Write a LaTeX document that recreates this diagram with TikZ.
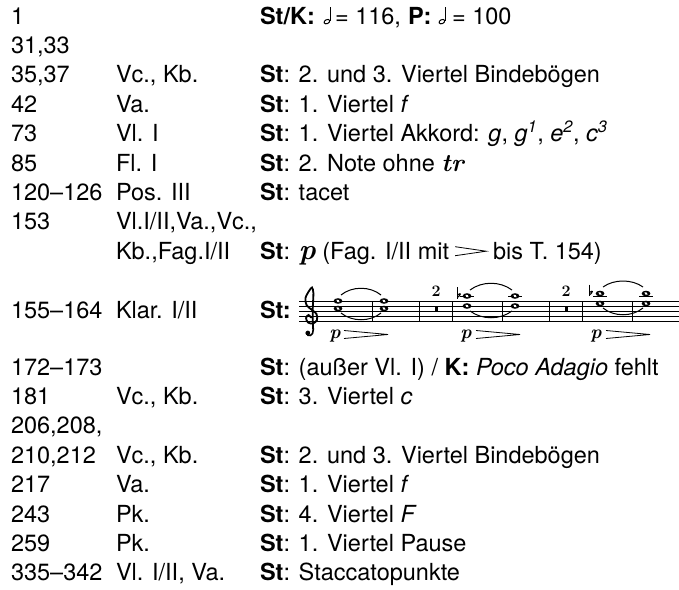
\documentclass[tikz,border=0pt]{standalone}
\usepackage{fontspec}
\newfontfamily\helv{TeX Gyre Heros}
\begin{document}
\begin{tikzpicture}[x=1pt,y=-1pt,
  txt/.style={anchor=base west, inner sep=0pt, outer sep=0pt, font=\helv\fontsize{23.5}{28}\selectfont},
  dyn/.style={anchor=base, inner sep=0pt, font=\rmfamily\bfseries\itshape\fontsize{19}{19}\selectfont},
  restnum/.style={inner sep=0pt, font=\rmfamily\bfseries\fontsize{16}{16}\selectfont},
  staffline/.style={line width=0.8pt},
  barline/.style={line width=1pt},
  tie/.style={line width=1pt},
  hairpin/.style={line width=0.8pt},
  wnote/.pic={\fill (0,0) ellipse (4.4 and 2.8); \fill[white,rotate=-35] (0,0) ellipse (1.9 and 1.2);},
  halfnote/.pic={\draw[line width=1pt,rotate=25] (0,-2.6) ellipse (3.0 and 2.0); \draw[line width=0.9pt] (2.8,-3.5) -- (2.8,-17);},
  ledger/.pic={\draw[line width=0.9pt] (-7,0) -- (7,0);},
  flat/.pic={\draw[line width=1pt] (0,-9) -- (0,2.5); \fill (0,2.5) .. controls (5.5,-1) and (5,-5) .. (0,-1.5) -- (0,0) .. controls (3,-2.5) and (3,-1) .. (0,1.2) -- cycle;}
]
\useasboundingbox (0,0) rectangle (679,589);
\def\ca{11}\def\cb{116}\def\cc{260}
% rows
\node[txt] (a1) at (\ca,24) {1};
\node[txt] (c1) at (\cc,24) {\bfseries St/K:};
\pic at (328,24) {halfnote};
\node[txt] (d1) at (335,24) {= 116,};
\node[txt] (p1t) at (408,24) {\bfseries P:};
\pic at (443,24) {halfnote};
\node[txt] (e1) at (452,24) {= 100};

\node[txt] (a2) at (\ca,53.4) {31,33};

\node[txt] (a3) at (\ca,82.8) {35,37};
\node[txt] (b3) at (\cb,82.8) {Vc., Kb.};
\node[txt] (c3) at (\cc,82.8) {\textbf{St}: 2. und 3. Viertel Bindebögen};

\node[txt] (a4) at (\ca,112.2) {42};
\node[txt] (b4) at (\cb,112.2) {Va.};
\node[txt] (c4) at (\cc,112.2) {\textbf{St}: 1. Viertel \textit{f}};

\node[txt] (a5) at (\ca,141.6) {73};
\node[txt] (b5) at (\cb,141.6) {Vl. I};
\node[txt] (c5) at (\cc,141.6) {\textbf{St}: 1. Viertel Akkord: \textit{g}, \textit{g}\textsuperscript{\itshape 1}, \textit{e}\textsuperscript{\itshape 2}, \textit{c}\textsuperscript{\itshape 3}};

\node[txt] (a6) at (\ca,171) {85};
\node[txt] (b6) at (\cb,171) {Fl. I};
\node[txt] (c6) at (\cc,171) {\textbf{St}: 2. Note ohne {\rmfamily\bfseries\itshape\fontsize{25}{25}\selectfont tr}};

\node[txt] (a7) at (\ca,200.4) {120–126};
\node[txt] (b7) at (\cb,200.4) {Pos. III};
\node[txt] (c7) at (\cc,200.4) {\textbf{St}: tacet};

\node[txt] (a8) at (\ca,229.8) {153};
\node[txt] (b8) at (\cb,229.8) {Vl.I/II,Va.,Vc.,};

\node[txt] (b9) at (\cb,259.2) {Kb.,Fag.I/II};
\node[txt] (c9) at (\cc,259.2) {\textbf{St}: {\rmfamily\bfseries\itshape\fontsize{29}{29}\selectfont p} (Fag. I/II mit};
\coordinate (h9) at ([xshift=6pt,yshift=8pt]c9.base east);
\draw[hairpin] ([yshift=4.5pt]h9) -- ([xshift=31pt]h9) -- ([yshift=-4.5pt]h9);
\node[txt] (d9) at ([xshift=44pt]c9.base east) {bis T. 154)};

% staff row
\node[txt] (a10) at (\ca,318) {155–164};
\node[txt] (b10) at (\cb,318) {Klar. I/II};
\node[txt] (c10) at (\cc,318) {\bfseries St:};
\foreach \yy in {301,306,311,316,321} \draw[staffline] (299,\yy) -- (679,\yy);
\foreach \xx in {372,419,452,502,549,582,632} \draw[barline] (\xx,301) -- (\xx,321);
% treble clef
\draw[line width=1.8pt, line cap=round] plot[smooth] coordinates {(311,317.5) (308.5,315) (306,318) (308,322.5) (313,323.5) (317,320) (316.5,314) (312,310) (306.5,305) (305.5,298) (309,291) (312,287.5) (313.4,293) (312.9,305) (312.7,318) (313.2,330)};
\draw[line width=1.6pt] (313.2,330) .. controls (313.6,336) and (307.5,337.5) .. (306.5,333);
\fill (307.8,333) circle (2.4);
% group 1
\pic at (338,301) {wnote}; \pic at (338,308.5) {wnote};
\pic at (384,301) {wnote}; \pic at (384,308.5) {wnote};
\draw[tie] (341,295) .. controls (352,286) and (370,286) .. (381,295);
\draw[tie] (341,313) .. controls (352,322) and (370,322) .. (381,313);
% rest 1
\fill (434.5,306) rectangle (437.8,311);
\node[restnum] (n1) at (436,291) {2};
% group 2
\pic at (467,296) {ledger}; \pic at (515,296) {ledger};
\pic at (467,296) {wnote}; \pic at (467,306) {wnote};
\pic at (515,296) {wnote}; \pic at (515,306) {wnote};
\pic at (457,296) {flat};
\draw[tie] (470,290) .. controls (482,281) and (500,281) .. (512,290);
\draw[tie] (470,311) .. controls (482,320) and (500,320) .. (512,311);
% rest 2
\fill (564.5,306) rectangle (567.8,311);
\node[restnum] (n2) at (566,291) {2};
% group 3
\pic at (600,296) {ledger}; \pic at (646,296) {ledger};
\pic at (600,293.5) {wnote}; \pic at (600,303.5) {wnote};
\pic at (646,293.5) {wnote}; \pic at (646,303.5) {wnote};
\pic at (589,293.5) {flat};
\draw[tie] (603,287) .. controls (614,279) and (632,279) .. (643,287);
\draw[tie] (603,308) .. controls (614,317) and (632,317) .. (643,308);
% dynamics
\node[dyn] (p1) at (335,338) {p};
\draw[hairpin] (344,330.5) -- (388,334.5) -- (344,338.5);
\node[dyn] (p2) at (466,338) {p};
\draw[hairpin] (476,330.5) -- (520,334.5) -- (476,338.5);
\node[dyn] (p3) at (596,338) {p};
\draw[hairpin] (606,330.5) -- (650,334.5) -- (606,338.5);

% lower rows
\node[txt] (a11) at (\ca,375) {172–173};
\node[txt] (c11) at (\cc,375) {\textbf{St}: (außer Vl. I) / \textbf{K:} \textit{Poco Adagio} fehlt};

\node[txt] (a12) at (\ca,404.4) {181};
\node[txt] (b12) at (\cb,404.4) {Vc., Kb.};
\node[txt] (c12) at (\cc,404.4) {\textbf{St}: 3. Viertel \textit{c}};

\node[txt] (a13) at (\ca,433.8) {206,208,};

\node[txt] (a14) at (\ca,463.2) {210,212};
\node[txt] (b14) at (\cb,463.2) {Vc., Kb.};
\node[txt] (c14) at (\cc,463.2) {\textbf{St}: 2. und 3. Viertel Bindebögen};

\node[txt] (a15) at (\ca,492.6) {217};
\node[txt] (b15) at (\cb,492.6) {Va.};
\node[txt] (c15) at (\cc,492.6) {\textbf{St}: 1. Viertel \textit{f}};

\node[txt] (a16) at (\ca,522) {243};
\node[txt] (b16) at (\cb,522) {Pk.};
\node[txt] (c16) at (\cc,522) {\textbf{St}: 4. Viertel \textit{F}};

\node[txt] (a17) at (\ca,551.4) {259};
\node[txt] (b17) at (\cb,551.4) {Pk.};
\node[txt] (c17) at (\cc,551.4) {\textbf{St}: 1. Viertel Pause};

\node[txt] (a18) at (\ca,580.8) {335–342};
\node[txt] (b18) at (\cb,580.8) {Vl. I/II, Va.};
\node[txt] (c18) at (\cc,580.8) {\textbf{St}: Staccatopunkte};
\end{tikzpicture}
\end{document}
